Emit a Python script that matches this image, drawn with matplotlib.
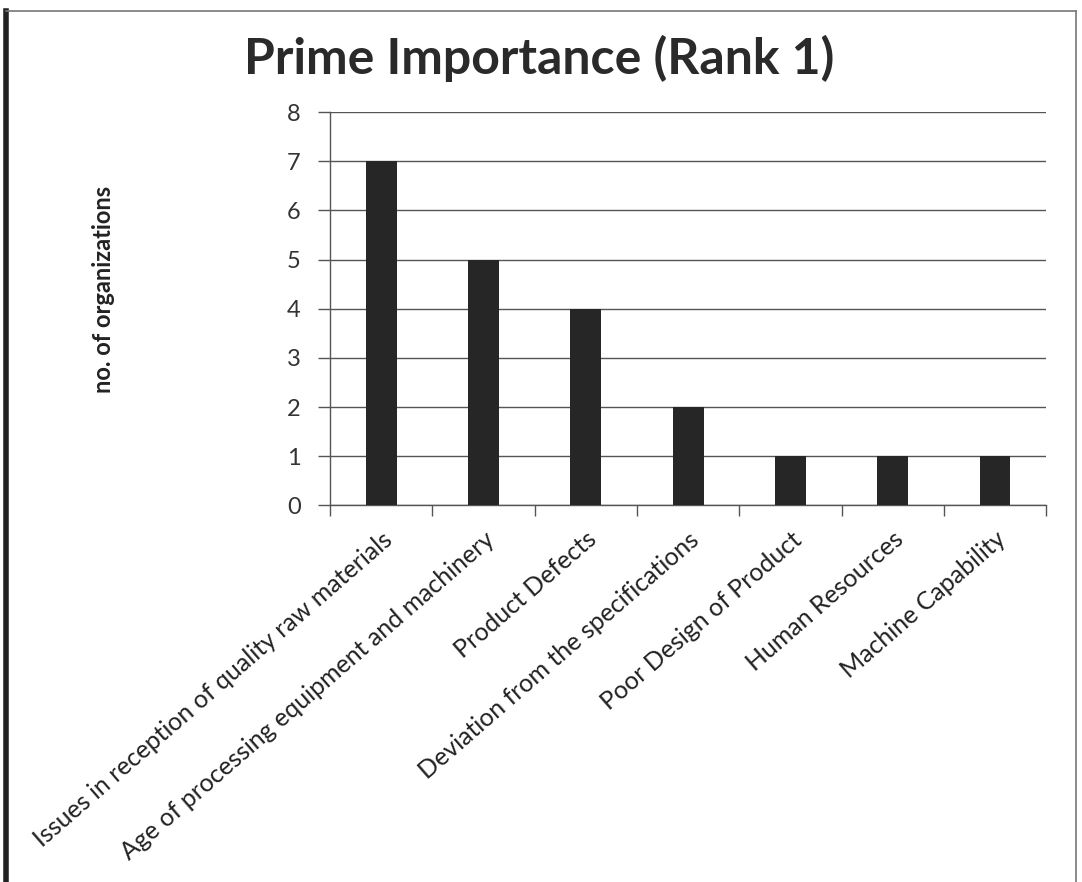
import matplotlib.pyplot as plt
from matplotlib.lines import Line2D

# data
categories = [
    "Issues in reception of quality raw materials",
    "Age of processing equipment and machinery",
    "Product Defects",
    "Deviation from the specifications",
    "Poor Design of Product",
    "Human Resources",
    "Machine Capability",
]
counts = [7, 5, 4, 2, 1, 1, 1]
y_ticks = [0, 1, 2, 3, 4, 5, 6, 7, 8]

plt.rcParams["font.family"] = ["Lato", "DejaVu Sans"]

fig = plt.figure(figsize=(10.82, 8.82), dpi=100)
ax = fig.add_axes([0.305, 0.427, 0.662, 0.446])

x = list(range(len(categories)))
ax.bar(x, counts, width=0.3, color="#262626", zorder=3)

ax.set_xlim(-0.5, len(categories) - 0.5)
ax.set_ylim(0, 8)
ax.set_yticks(y_ticks)
ax.set_yticklabels([str(v) for v in y_ticks], fontsize=17, color="#333333")
ax.yaxis.grid(True, color="#555555", linewidth=1.0, zorder=0)
ax.tick_params(axis="y", length=9, width=1, color="#555555", direction="out", pad=12)

# category labels sit at the centres, ticks at the boundaries
ax.set_xticks(x)
ax.set_xticklabels(categories, rotation=41, ha="right", rotation_mode="anchor",
                   fontsize=18, color="#222222")
ax.tick_params(axis="x", length=0, pad=16)
ax.set_xticks([i - 0.5 for i in range(len(categories) + 1)], minor=True)
ax.tick_params(axis="x", which="minor", length=8, width=1, color="#555555", direction="out")

for side in ["top", "right"]:
    ax.spines[side].set_visible(False)
for side in ["left", "bottom"]:
    ax.spines[side].set_color("#555555")
    ax.spines[side].set_linewidth(1.0)

ax.set_ylabel("no. of organizations", fontsize=17, fontweight="bold", color="#222222",
              labelpad=0)
ax.yaxis.set_label_coords(-0.30, 0.55)

fig.text(0.498, 0.934, "Prime Importance (Rank 1)", ha="center", va="center",
         fontsize=36, fontweight="bold", color="#2a2a2a")

# scanned page frame
fig.add_artist(Line2D([0.006, 0.006], [0.0, 0.988], color="#222222", linewidth=4))
fig.add_artist(Line2D([0.006, 0.994], [0.988, 0.988], color="#777777", linewidth=1.2))
fig.add_artist(Line2D([0.994, 0.994], [0.0, 0.988], color="#777777", linewidth=1.2))

fig.savefig("out.png", dpi=100)
